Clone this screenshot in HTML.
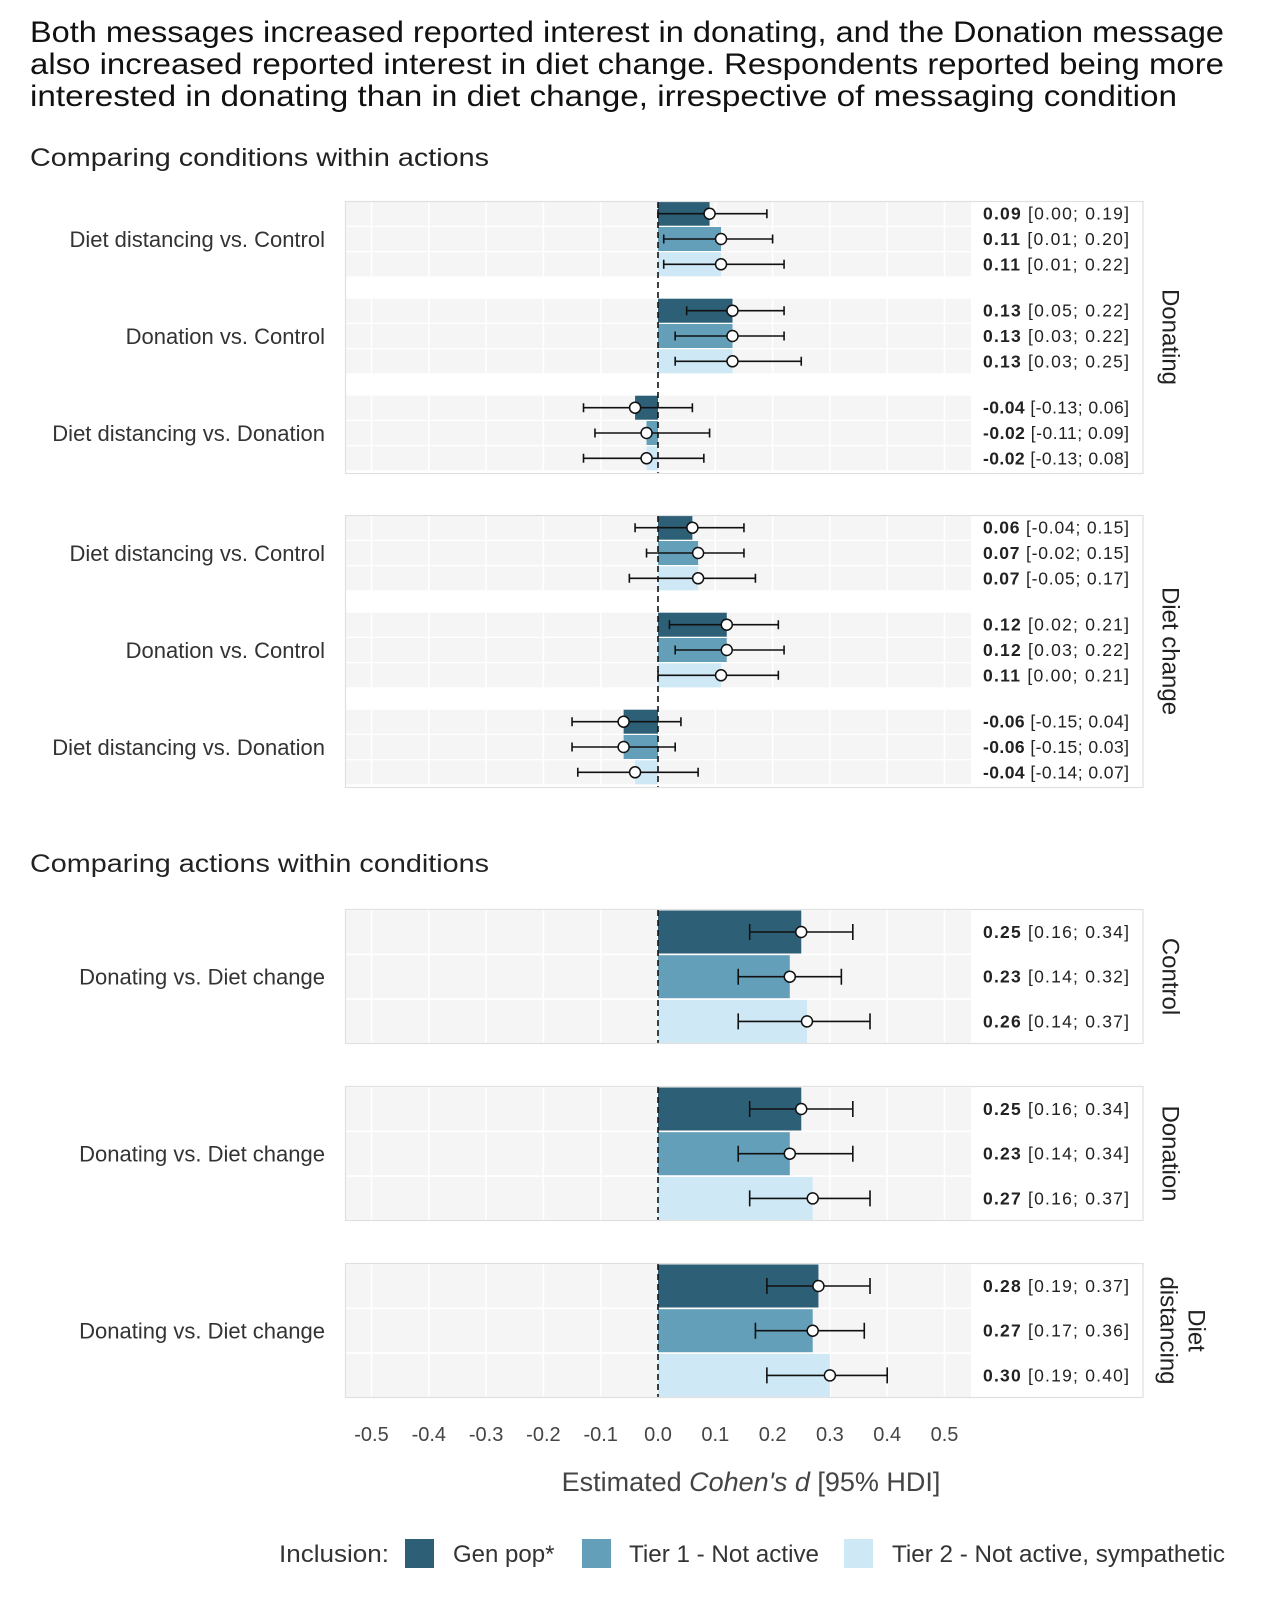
<!DOCTYPE html>
<html><head><meta charset="utf-8">
<style>
html,body{margin:0;padding:0;background:#fff;}
svg{display:block;font-family:"Liberation Sans",sans-serif;}
</style></head>
<body>
<svg id="chart" width="1280" height="1600" viewBox="0 0 1280 1600" xmlns="http://www.w3.org/2000/svg">
<g fill="#111" font-size="30">
<text x="30" y="42" textLength="1194" lengthAdjust="spacingAndGlyphs">Both messages increased reported interest in donating, and the Donation message</text>
<text x="30" y="74" textLength="1194" lengthAdjust="spacingAndGlyphs">also increased reported interest in diet change. Respondents reported being more</text>
<text x="30" y="106" textLength="1147" lengthAdjust="spacingAndGlyphs">interested in donating than in diet change, irrespective of messaging condition</text>
</g>
<text x="30" y="166" font-size="25" fill="#222" textLength="459" lengthAdjust="spacingAndGlyphs">Comparing conditions within actions</text>
<text x="30" y="872" font-size="25" fill="#222" textLength="459" lengthAdjust="spacingAndGlyphs">Comparing actions within conditions</text>
<g id="plot"></g>
<g><text x="751" y="1491" font-size="27" fill="#444" text-anchor="middle">Estimated <tspan font-style="italic">Cohen's d</tspan> [95% HDI]</text></g>
<g font-size="24" fill="#333">
<text x="389" y="1562" text-anchor="end" textLength="110" lengthAdjust="spacingAndGlyphs">Inclusion:</text>
<rect x="405" y="1539" width="29" height="29" fill="#2d5f77"/>
<text x="453" y="1562">Gen pop*</text>
<rect x="582" y="1539" width="29" height="29" fill="#649fba"/>
<text x="629" y="1562" textLength="190" lengthAdjust="spacingAndGlyphs">Tier 1 - Not active</text>
<rect x="844" y="1539" width="29" height="29" fill="#cfe8f6"/>
<text x="892" y="1562" textLength="333" lengthAdjust="spacingAndGlyphs">Tier 2 - Not active, sympathetic</text>
</g>
</svg>
<script>
// ---- data ----
const colors = ["#2d5f77","#649fba","#cfe8f6"];
const groupsTop = ["Diet distancing vs. Control","Donation vs. Control","Diet distancing vs. Donation"];
const donEst = [[0.09,0.11,0.11],[0.13,0.13,0.13],[-0.04,-0.02,-0.02]];
const donLo  = [[0.00,0.01,0.01],[0.05,0.03,0.03],[-0.13,-0.11,-0.13]];
const donHi  = [[0.19,0.20,0.22],[0.22,0.22,0.25],[0.06,0.09,0.08]];
const dietEst = [[0.06,0.07,0.07],[0.12,0.12,0.11],[-0.06,-0.06,-0.04]];
const dietLo  = [[-0.04,-0.02,-0.05],[0.02,0.03,0.00],[-0.15,-0.15,-0.14]];
const dietHi  = [[0.15,0.15,0.17],[0.21,0.22,0.21],[0.04,0.03,0.07]];
const condLabels = ["Control","Donation","Diet distancing"];
const condEst = [[0.25,0.23,0.26],[0.25,0.23,0.27],[0.28,0.27,0.30]];
const condLo  = [[0.16,0.14,0.14],[0.16,0.14,0.16],[0.19,0.17,0.19]];
const condHi  = [[0.34,0.32,0.37],[0.34,0.34,0.37],[0.37,0.36,0.40]];
const ticks = [-0.5,-0.4,-0.3,-0.2,-0.1,0.0,0.1,0.2,0.3,0.4,0.5];

// ---- scales ----
const X0 = 658, XU = 573;
const xs = v => X0 + v*XU;
const GL = 346, GR = 971, PR = 1143;
const NS = "http://www.w3.org/2000/svg";
const plot = document.getElementById('plot');
function mk(tag, attrs, parent){
  const e = document.createElementNS(NS, tag);
  for (const k in attrs) e.setAttribute(k, attrs[k]);
  (parent||plot).appendChild(e);
  return e;
}
function fmt(v){ return (v<0?"-":"")+Math.abs(v).toFixed(2); }

function drawRow(g, y, h, est, lo, hi, ci, capH){
  const bg = mk('rect',{x:GL,y:y-h/2,width:GR-GL,height:h,fill:'#f5f5f5'},g);
  
  
  ticks.forEach(t=>{
    const gl = mk('line',{x1:xs(t),x2:xs(t),y1:y-h/2,y2:y+h/2,stroke:'#fff','stroke-width':1.6},g);
    
    
  });
  const bx = Math.min(xs(0),xs(est)), bw = Math.abs(xs(est)-xs(0));
  const bar = mk('rect',{x:bx,y:y-h/2,width:bw,height:h,fill:colors[ci]},g);
  
  
  const eb = mk('path',{d:`M${xs(lo)},${y}H${xs(hi)}M${xs(lo)},${y-capH/2}V${y+capH/2}M${xs(hi)},${y-capH/2}V${y+capH/2}`,stroke:'#111','stroke-width':1.6,fill:'none'},g);
  
  
  const pt = mk('circle',{cx:xs(est),cy:y,r:5.5,fill:'#fff',stroke:'#111','stroke-width':1.5},g);
  
  
  const lab = mk('text',{x:983,y:y+6,'font-size':17.5,fill:'#222',textLength:146,lengthAdjust:'spacing'},g);
  
  
  const b = mk('tspan',{'font-weight':'bold'},lab); b.textContent = fmt(est);
  const r = mk('tspan',{},lab); r.textContent = ` [${fmt(lo)}; ${fmt(hi)}]`;
}

function panelFrame(g, top, bot){
  const f = mk('rect',{x:345.5,y:top-0.5,width:PR-345.5,height:bot-top+1,fill:'none',stroke:'#e0e0e0','stroke-width':1.2},g);
  
  
}
function zeroLine(g, top, bot){
  const z = mk('line',{x1:X0,x2:X0,y1:top,y2:bot,stroke:'#111','stroke-width':1.6,'stroke-dasharray':'6,4'},g);
  
  
}
function strip(g, lines, cy){
  lines.forEach((s,i)=>{
    const n = lines.length;
    const x = n===1 ? 1170 : 1182 + (i-(n-1)/2)*(-28);
    const t = mk('text',{x:x,y:cy,'font-size':24,fill:'#222','text-anchor':'middle',transform:`rotate(90 ${x} ${cy})`,'dominant-baseline':'central'},g);
    
    
    t.textContent = s;
  });
}
function leftLabel(g, text, y){
  const l = mk('text',{x:325,y:y,'font-size':22,fill:'#333','text-anchor':'end'},g);
  
  
  l.textContent = text;
}

function smallPanel(top, est, lo, hi, name, facet){
  const g = mk('g',{});
  
  
  const bot = top + 271;
  for (let gi=0; gi<3; gi++){
    const gc = top + 37 + gi*97;
    for (let i=0;i<3;i++) drawRow(g, gc+(i-1)*25.3, 24, est[gi][i], lo[gi][i], hi[gi][i], i, 9);
    leftLabel(g, groupsTop[gi], gc+8);
  }
  zeroLine(g, top, bot);
  panelFrame(g, top, bot);
  strip(g, facet, top+135);
}
smallPanel(202, donEst, donLo, donHi, 'panel-donating', ['Donating']);
smallPanel(516, dietEst, dietLo, dietHi, 'panel-diet-change', ['Diet change']);

const bigTops = [910, 1087, 1264];
const facets = [['Control'],['Donation'],['Diet','distancing']];
bigTops.forEach((top, pi)=>{
  const g = mk('g',{});
  
  
  const h = 133;
  for (let i=0;i<3;i++) drawRow(g, top + 22 + i*44.7, 43, condEst[pi][i], condLo[pi][i], condHi[pi][i], i, 16);
  leftLabel(g, 'Donating vs. Diet change', top+h/2+8);
  zeroLine(g, top, top+h);
  panelFrame(g, top, top+h);
  strip(g, facets[pi], top+h/2);
});

const ax = mk('g',{});


ticks.forEach(t=>{
  const tl = mk('text',{x:xs(t),y:1441,'font-size':20,fill:'#444','text-anchor':'middle'},ax);
  
  
  tl.textContent = t.toFixed(1);
});
</script>
</body></html>
